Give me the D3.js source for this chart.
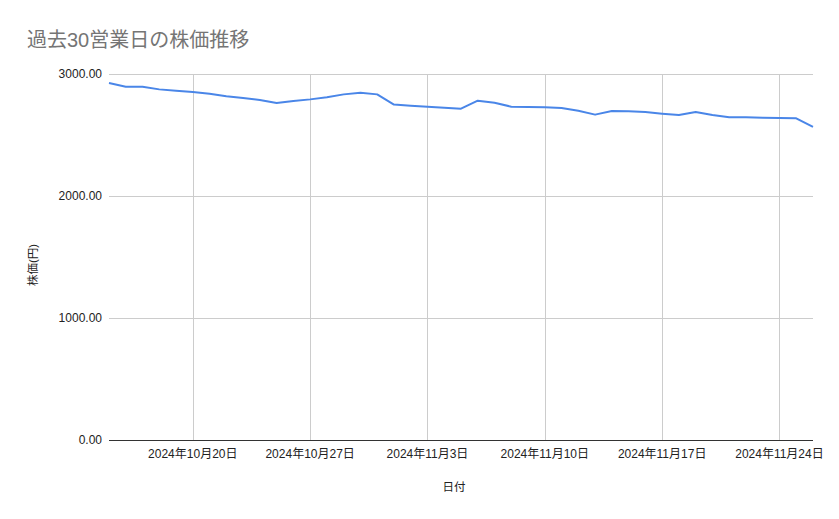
<!DOCTYPE html>
<html lang="ja">
<head>
  <meta charset="UTF-8" />
  <title>過去30営業日の株価推移</title>
  <script src="https://d3js.org/d3.v7.min.js"></script>
  <style>
    body {
      margin: 0;
      background: #ffffff;
      font-family: "Liberation Sans", Arial, "Noto Sans CJK JP", sans-serif;
    }
    svg { display: block; }
    .title { font-size: 20px; fill: #757575; }
    .tick-label { font-size: 12px; fill: #222222; }
    .axis-title { font-size: 11.5px; fill: #222222; }
    .grid line { stroke: #cccccc; stroke-width: 1; }
    .line { fill: none; stroke: #4a86e8; stroke-width: 2; stroke-linejoin: round; }
  </style>
</head>
<body>
<svg id="chart"></svg>
<script>
// daily closing prices
const dates = [
  "2024-10-15", "2024-10-16", "2024-10-17", "2024-10-18", "2024-10-19", "2024-10-20",
  "2024-10-21", "2024-10-22", "2024-10-23", "2024-10-24", "2024-10-25", "2024-10-26",
  "2024-10-27", "2024-10-28", "2024-10-29", "2024-10-30", "2024-10-31", "2024-11-01",
  "2024-11-02", "2024-11-03", "2024-11-04", "2024-11-05", "2024-11-06", "2024-11-07",
  "2024-11-08", "2024-11-09", "2024-11-10", "2024-11-11", "2024-11-12", "2024-11-13",
  "2024-11-14", "2024-11-15", "2024-11-16", "2024-11-17", "2024-11-18", "2024-11-19",
  "2024-11-20", "2024-11-21", "2024-11-22", "2024-11-23", "2024-11-24", "2024-11-25",
  "2024-11-26"
];
const prices = [
  2926, 2896, 2896, 2874, 2863, 2852,
  2838, 2817, 2803, 2787, 2762, 2779,
  2792, 2809, 2833, 2847, 2833, 2749,
  2740, 2732, 2724, 2716, 2781, 2765,
  2732, 2730, 2727, 2721, 2699, 2667,
  2697, 2694, 2689, 2675, 2664, 2689,
  2664, 2645, 2645, 2642, 2639, 2637,
  2566
];
const xTicks = ["2024-10-20", "2024-10-27", "2024-11-03", "2024-11-10", "2024-11-17", "2024-11-24"];
const yTicks = [0, 1000, 2000, 3000];

const width = 839, height = 519;
const margin = { top: 74, right: 26, bottom: 79, left: 109 };

const parse = d3.utcParse("%Y-%m-%d");
const data = dates.map((d, i) => ({ date: parse(d), value: prices[i] }));

const svg = d3.select("#chart").attr("width", width).attr("height", height);

const x = d3.scaleUtc()
  .domain(d3.extent(data, d => d.date))
  .range([margin.left, width - margin.right]);
const y = d3.scaleLinear()
  .domain([0, 3000])
  .range([height - margin.bottom, margin.top]);

const fmtDate = d => `${d.getUTCFullYear()}年${d.getUTCMonth() + 1}月${d.getUTCDate()}日`;

svg.append("text")
  .attr("class", "title")
  .attr("x", 27).attr("y", 47)
  .text("過去30営業日の株価推移");

// horizontal grid
const grid = svg.append("g").attr("class", "grid");
grid.selectAll(".hy")
  .data(yTicks.filter(t => t > 0))
  .join("line")
  .attr("x1", margin.left).attr("x2", width - margin.right)
  .attr("y1", d => y(d) + 0.5).attr("y2", d => y(d) + 0.5);

// vertical grid
grid.selectAll(".vx")
  .data(xTicks.map(parse))
  .join("line")
  .attr("x1", d => Math.round(x(d)) + 0.5).attr("x2", d => Math.round(x(d)) + 0.5)
  .attr("y1", margin.top).attr("y2", height - margin.bottom);

// baseline
svg.append("line")
  .attr("x1", margin.left).attr("x2", width - margin.right)
  .attr("y1", y(0) + 0.5).attr("y2", y(0) + 0.5)
  .attr("stroke", "#333333").attr("stroke-width", 1);

// y tick labels
svg.append("g").selectAll("text")
  .data(yTicks)
  .join("text")
  .attr("class", "tick-label")
  .attr("x", margin.left - 7)
  .attr("y", d => y(d))
  .attr("dy", "0.35em")
  .attr("text-anchor", "end")
  .text(d => d3.format(".2f")(d));

// x tick labels
svg.append("g").selectAll("text")
  .data(xTicks.map(parse))
  .join("text")
  .attr("class", "tick-label")
  .attr("x", d => x(d))
  .attr("y", height - margin.bottom + 18)
  .attr("text-anchor", "middle")
  .text(fmtDate);

// axis titles
svg.append("text")
  .attr("class", "axis-title")
  .attr("x", 454).attr("y", 491)
  .attr("text-anchor", "middle")
  .text("日付");

svg.append("text")
  .attr("class", "axis-title")
  .attr("transform", `translate(37,265) rotate(-90)`)
  .attr("text-anchor", "middle")
  .text("株価(円)");

const line = d3.line()
  .x(d => x(d.date))
  .y(d => y(d.value));

svg.append("path")
  .datum(data)
  .attr("class", "line")
  .attr("d", line);
</script>
</body>
</html>
